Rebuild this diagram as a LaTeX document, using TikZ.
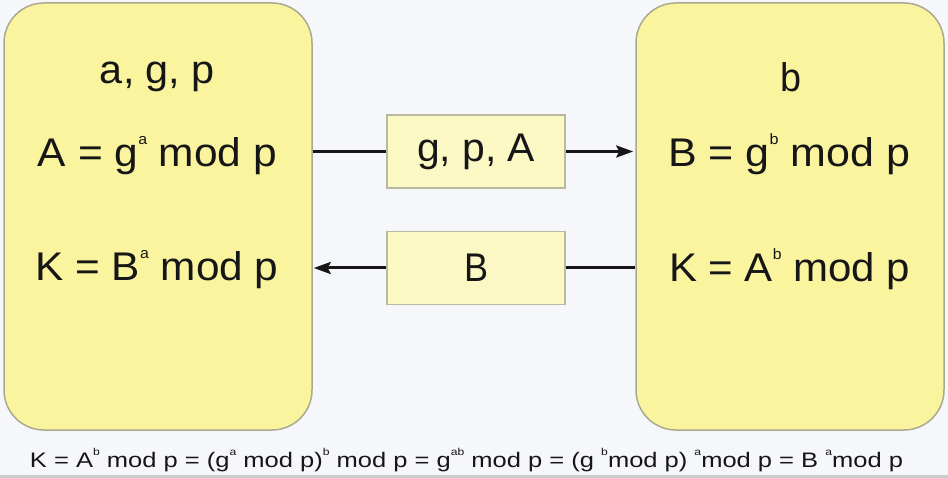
\documentclass[tikz,border=0pt]{standalone}
\usepackage{fontspec}
\setmainfont{Liberation Sans}
\usetikzlibrary{arrows.meta}
\definecolor{bg}{RGB}{246,247,250}
\definecolor{boxfill}{RGB}{250,244,158}
\definecolor{boxline}{RGB}{170,170,145}
\definecolor{msgfill}{RGB}{251,248,196}
\definecolor{msgline}{RGB}{185,185,160}
\definecolor{ink}{RGB}{22,22,22}
\definecolor{strip}{RGB}{205,205,205}
\newcommand{\bigsup}[1]{\raisebox{22pt}{\fontsize{15}{15}\selectfont #1}}
\newcommand{\smallsup}[1]{\raisebox{12pt}{\fontsize{10}{10}\selectfont #1}}
\newcommand{\fitw}[2]{\resizebox{#1pt}{\height}{#2}}
\tikzset{
  bigbox/.style={draw=boxline, line width=1.5pt, fill=boxfill, rounded corners=40pt,
    minimum width=308pt, minimum height=427pt, inner sep=0pt},
  msg/.style={draw=msgline, line width=1.2pt, fill=msgfill,
    minimum width=178pt, minimum height=73pt, inner sep=0pt, text=ink,
    font=\fontsize{40}{44}\selectfont},
  lbl/.style={anchor=base, inner sep=0pt, text=ink, font=\fontsize{40}{44}\selectfont},
  foot/.style={anchor=base, inner sep=0pt, text=ink, font=\fontsize{21}{24}\selectfont},
  conn/.style={draw=ink, line width=3pt},
  tip/.style={-{Stealth[length=17pt,width=12pt,inset=3pt]}}
}
\begin{document}
\begin{tikzpicture}[x=1pt,y=-1pt]
\useasboundingbox (0,0) rectangle (948,478);
\fill[bg] (0,0) rectangle (948,478);
\fill[strip] (0,475) rectangle (948,478);

\node[bigbox] (L) at (158,216.5) {};
\node[bigbox] (R) at (790,216.5) {};

\node[msg] (M1) at (476,151.5) {\fitw{118}{g, p, A}};
\node[msg] (M2) at (476,268) {\fitw{24}{B}};

\node[lbl] (la) at (157.5,84) {\fitw{115}{a, g, p}};
\node[lbl] (lA) at (157.5,167) {\fitw{239}{A = g\bigsup{a} mod p}};
\node[lbl] (lK) at (157,281) {\fitw{243}{K = B\bigsup{a} mod p}};

\node[lbl] (rb) at (790.5,92) {\fitw{21}{b}};
\node[lbl] (rB) at (789,167) {\fitw{242}{B = g\bigsup{b} mod p}};
\node[lbl] (rK) at (789.5,282) {\fitw{241}{K = A\bigsup{b} mod p}};

\draw[conn] (L.east |- M1.west) -- (M1.west);
\draw[conn,tip,shorten >=2pt] (M1.east) -- (R.west |- M1.east);
\draw[conn] (R.west |- M2.east) -- (M2.east);
\draw[conn,tip,shorten >=1pt] (M2.west) -- (L.east |- M2.west);

\node[foot] (eq) at (466.5,467) {\fitw{873}{K = A\smallsup{b} mod p = (g\smallsup{a} mod p)\smallsup{b} mod p = g\smallsup{ab} mod p = (g \smallsup{b}mod p) \smallsup{a}mod p = B \smallsup{a}mod p}};
\end{tikzpicture}
\end{document}
